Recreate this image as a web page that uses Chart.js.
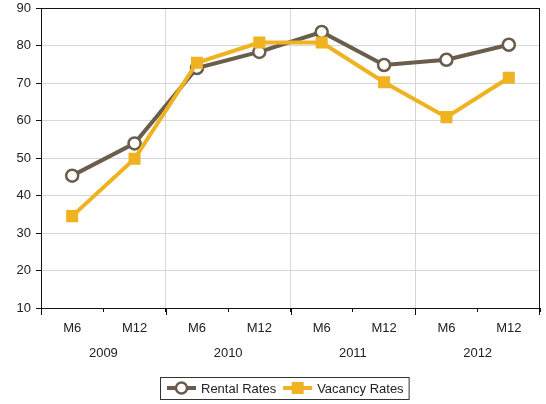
<!DOCTYPE html>
<html>
<head>
<meta charset="utf-8">
<script src="https://cdn.jsdelivr.net/npm/chart.js@4.4.0/dist/chart.umd.min.js"></script>
<style>
  html, body { margin: 0; padding: 0; background: #fff; }
  #wrap { width: 546px; height: 404px; }
</style>
</head>
<body>
<div id="wrap"><canvas id="chart"></canvas></div>
<script>
  "use strict";

  var periods = ['M6', 'M12', 'M6', 'M12', 'M6', 'M12', 'M6', 'M12'];
  var years = ['2009', '2010', '2011', '2012'];
  var rentalRates = [45.3, 53.9, 74, 78.3, 83.6, 74.8, 76.2, 80.2];
  var vacancyRates = [34.5, 49.8, 75.4, 80.8, 80.8, 70.2, 60.9, 71.4];

  var brown = '#6a5d4b';
  var gold = '#efb220';
  var gridColor = '#d6d6d6';
  var fontFamily = '"Liberation Sans", Arial, sans-serif';

  Chart.defaults.font.family = fontFamily;
  Chart.defaults.font.size = 13;
  Chart.defaults.color = '#222';

  // black frame round the plot area + longer ticks at the year boundaries
  var framePlugin = {
    id: 'frame',
    beforeDatasetsDraw: function (chart) {
      var a = chart.chartArea, ctx = chart.ctx;
      ctx.save();
      ctx.strokeStyle = '#111';
      ctx.lineWidth = 1;
      ctx.strokeRect(Math.round(a.left) + 0.5, Math.round(a.top) + 0.5,
        Math.round(a.right - a.left) - 1, Math.round(a.bottom - a.top));
      var xs = chart.scales.x;
      var n = chart.data.labels.length;
      for (var i = 0; i <= n; i += 2) {
        var px = i < n ? xs.getPixelForTick(i) - (xs.getPixelForTick(1) - xs.getPixelForTick(0)) / 2 : a.right;
        px = Math.round(px) + 0.5;
        if (i === n) px = Math.round(a.right) - 0.5;
        ctx.beginPath();
        ctx.moveTo(px, a.bottom);
        ctx.lineTo(px, a.bottom + 7);
        ctx.stroke();
      }
      ctx.restore();
    }
  };

  // boxed legend under the chart, line + marker like the original
  var legendPlugin = {
    id: 'boxLegend',
    afterDraw: function (chart) {
      var ctx = chart.ctx;
      var ds = chart.data.datasets;
      var y = 388;
      var x = 167;
      ctx.save();
      ctx.font = '13px ' + fontFamily;
      ctx.textBaseline = 'middle';
      var items = [];
      ds.forEach(function (d) { items.push({ d: d, w: ctx.measureText(d.label).width }); });

      var boxLeft = 160, boxTop = 377;
      items.forEach(function (it, i) {
        var d = it.d;
        ctx.strokeStyle = d.borderColor;
        ctx.lineWidth = 4;
        ctx.beginPath();
        ctx.moveTo(x, y);
        ctx.lineTo(x + 29, y);
        ctx.stroke();
        if (d.pointStyle === 'rect') {
          ctx.fillStyle = d.pointBackgroundColor;
          ctx.fillRect(x + 14.5 - 6, y - 6, 12, 12);
        } else {
          ctx.beginPath();
          ctx.arc(x + 14.5, y, 5.5, 0, Math.PI * 2);
          ctx.fillStyle = '#fff';
          ctx.fill();
          ctx.lineWidth = 2.5;
          ctx.strokeStyle = d.pointBorderColor;
          ctx.stroke();
        }
        ctx.fillStyle = '#222';
        ctx.fillText(d.label, x + 34, y + 1);
        x += 34 + it.w + 7;
      });
      ctx.strokeStyle = '#333';
      ctx.lineWidth = 1;
      ctx.strokeRect(boxLeft + 0.5, boxTop + 0.5, x - boxLeft - 2, 22);
      ctx.restore();
    }
  };

  var ctxChart = document.getElementById('chart').getContext('2d');
  var chart = new Chart(ctxChart, {
    type: 'line',
    data: {
      labels: periods,
      datasets: [
        {
          label: 'Rental Rates',
          data: rentalRates,
          borderColor: brown,
          borderWidth: 4,
          pointStyle: 'circle',
          pointRadius: 6,
          pointBorderWidth: 2.5,
          pointBackgroundColor: '#fff',
          pointBorderColor: brown,
          tension: 0,
          order: 2
        },
        {
          label: 'Vacancy Rates',
          data: vacancyRates,
          borderColor: gold,
          borderWidth: 4,
          pointStyle: 'rect',
          pointRadius: 8.5,
          pointBorderWidth: 0,
          pointBackgroundColor: gold,
          pointBorderColor: gold,
          tension: 0,
          order: 1
        }
      ]
    },
    options: {
      responsive: true,
      maintainAspectRatio: false,
      animation: false,
      layout: {
        autoPadding: false,
        padding: { top: 8, right: 6, left: 0, bottom: 36 }
      },
      scales: {
        x: {
          type: 'category',
          offset: true,
          grid: {
            offset: true,
            drawOnChartArea: true,
            tickLength: 4,
            color: function (c) {
              return (c.index === 2 || c.index === 4 || c.index === 6) ? gridColor : 'rgba(0,0,0,0)';
            },
            tickColor: '#111'
          },
          border: { color: '#111', width: 1 },
          ticks: { padding: 9, color: '#222', maxRotation: 0, autoSkip: false },
          afterFit: function (s) { s.height = 32; s.paddingLeft = 0; s.paddingRight = 0; }
        },
        x2: {
          type: 'category',
          labels: years,
          position: 'bottom',
          offset: true,
          grid: { display: false, drawTicks: false },
          border: { display: false },
          ticks: { padding: 6, color: '#222', maxRotation: 0 },
          afterFit: function (s) { s.height = 28; s.paddingLeft = 0; s.paddingRight = 0; }
        },
        y: {
          min: 10,
          max: 90,
          ticks: { stepSize: 10, padding: 5, color: '#222' },
          grid: { color: gridColor, tickColor: '#111', tickLength: 5 },
          border: { color: '#111', width: 1 },
          afterFit: function (s) { s.width = 41; s.paddingTop = 0; s.paddingBottom = 0; }
        }
      },
      plugins: {
        legend: { display: false },
        tooltip: { enabled: false }
      }
    },
    plugins: [framePlugin, legendPlugin]
  });
</script>
</body>
</html>
